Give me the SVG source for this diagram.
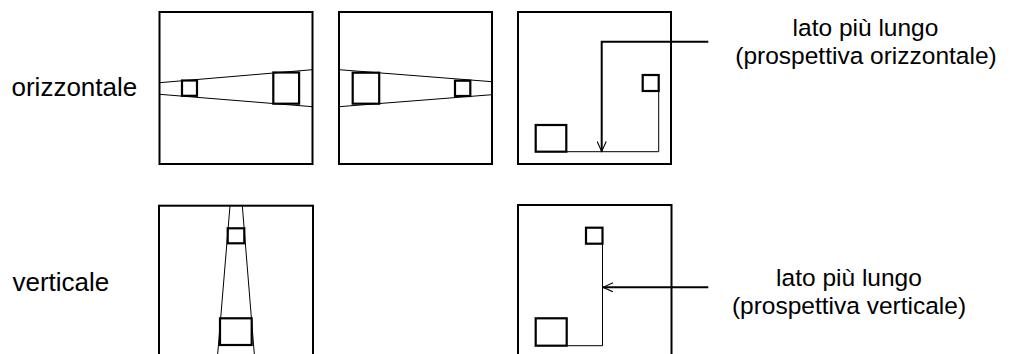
<svg xmlns="http://www.w3.org/2000/svg" width="1011" height="354" viewBox="0 0 1011 354">
  <style>
    .frame { fill: #ffffff; stroke: #000000; stroke-width: 2; }
    .sq { fill: none; stroke: #000000; stroke-width: 2.2; }
    .thin { fill: none; stroke: #000000; stroke-width: 1; }
    .lead { fill: none; stroke: #000000; stroke-width: 2; }
    .lbl { font-family: "Liberation Sans", Arial, sans-serif; font-size: 26px; fill: #000000; }
    .note { font-family: "Liberation Sans", Arial, sans-serif; font-size: 24.5px; fill: #000000; text-anchor: middle; }
  </style>
  <defs>
    <marker id="openhead" viewBox="0 0 12 10" refX="11" refY="5" markerWidth="12" markerHeight="10" markerUnits="userSpaceOnUse" orient="auto">
      <path d="M1,0.5 L11,5 L1,9.5" fill="none" stroke="#000000" stroke-width="1.1"/>
    </marker>
  </defs>
  <rect width="1011" height="354" fill="#ffffff"/>

  <g id="label-orizzontale">
    <text class="lbl" x="11.5" y="96">orizzontale</text>
  </g>
  <g id="label-verticale">
    <text class="lbl" x="12.5" y="291">verticale</text>
  </g>

  <g id="panel-h1">
    <rect class="frame" x="159.5" y="12" width="153" height="152"/>
    <line class="thin" x1="159.5" y1="82.7" x2="312.5" y2="69.7"/>
    <line class="thin" x1="159.5" y1="94.3" x2="312.5" y2="106.7"/>
    <rect class="sq" x="182" y="80.5" width="15" height="15.3"/>
    <rect class="sq" x="273.3" y="72.5" width="25.8" height="31.2"/>
  </g>

  <g id="panel-h2">
    <rect class="frame" x="339" y="12" width="153" height="152"/>
    <line class="thin" x1="339" y1="69.7" x2="492" y2="81.7"/>
    <line class="thin" x1="339" y1="106.7" x2="492" y2="94.7"/>
    <rect class="sq" x="352.7" y="72.7" width="26.5" height="31"/>
    <rect class="sq" x="455" y="80.7" width="15.3" height="15.3"/>
  </g>

  <g id="panel-h3">
    <rect class="frame" x="518" y="12" width="153" height="152"/>
    <rect class="sq" x="535.7" y="125" width="30.6" height="26.7"/>
    <rect class="sq" x="642.7" y="75" width="16" height="16"/>
    <polyline class="thin" points="566.3,151.7 658.7,151.7 658.7,91"/>
  </g>

  <g id="panel-v1">
    <rect class="frame" x="159" y="205.7" width="154" height="160"/>
    <line class="thin" x1="230" y1="205.7" x2="217.7" y2="354"/>
    <line class="thin" x1="242.3" y1="205.7" x2="254.3" y2="354"/>
    <rect class="sq" x="227.7" y="228.3" width="16.6" height="15"/>
    <rect class="sq" x="220" y="318.3" width="31.7" height="26.7"/>
  </g>

  <g id="panel-v3">
    <rect class="frame" x="518" y="205" width="153.5" height="160"/>
    <rect class="sq" x="586" y="227.7" width="16.5" height="16"/>
    <rect class="sq" x="535.7" y="318.3" width="31" height="27.4"/>
    <polyline class="thin" points="566.7,345.7 602.5,345.7 602.5,243.7"/>
  </g>

  <g id="note-orizzontale">
    <text class="note" x="865.5" y="36.3">lato più lungo</text>
    <text class="note" x="866" y="63.8">(prospettiva orizzontale)</text>
  </g>
  <g id="note-verticale">
    <text class="note" x="849" y="286.3">lato più lungo</text>
    <text class="note" x="849" y="313.8">(prospettiva verticale)</text>
  </g>

  <g id="connectors">
    <polyline class="lead" points="708.3,41.7 601.7,41.7 601.7,151.5" marker-end="url(#openhead)"/>
    <polyline class="lead" points="708.3,287.3 603,287.3" marker-end="url(#openhead)"/>
  </g>
</svg>
